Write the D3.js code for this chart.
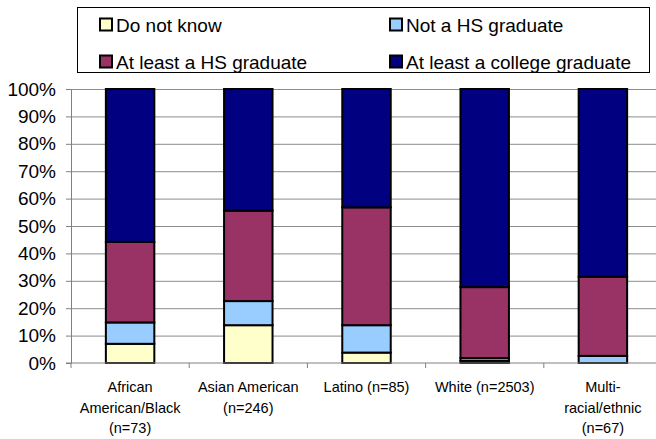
<!DOCTYPE html>
<html>
<head>
<meta charset="utf-8">
<script src="https://cdn.jsdelivr.net/npm/d3@7"></script>
<style>
    body { margin: 0; background: #fff; }
    svg { display: block; font-family: "Liberation Sans", Arial, sans-serif; }
    .y-axis .domain, .x-line { stroke: #808080; }
    .y-axis .tick line { stroke: #808080; }
    .grid line { stroke: #8c8c8c; }
    .grid .domain { display: none; }
</style>
</head>
<body>
<svg class="chart" width="656" height="439"></svg>
<script>
// categories (label lines split by \n)
const categories = [
    "African\nAmerican/Black\n(n=73)",
    "Asian American\n(n=246)",
    "Latino (n=85)",
    "White (n=2503)",
    "Multi-\nracial/ethnic\n(n=67)"
];
const seriesNames = ["Do not know", "Not a HS graduate", "At least a HS graduate", "At least a college graduate"];
const doNotKnow   = [7.0, 13.8, 3.8, 0.8, 0.0];
const notHsGrad   = [7.8, 8.8, 10.0, 1.0, 2.6];
const hsGrad      = [29.4, 33.0, 43.0, 25.9, 28.9];
const collegeGrad = [55.8, 44.4, 43.2, 72.3, 68.5];
const yTicks = [0, 10, 20, 30, 40, 50, 60, 70, 80, 90, 100];

const colors = ['#ffffcc', '#99ccff', '#993366', '#000080'];

function render()
{
    const plot = { left: 71, right: 662, top: 89, bottom: 363 };
    const svg = d3.select('.chart');

    const rows = categories.map((c, i) => ({
        cat: c,
        s0: doNotKnow[i],
        s1: notHsGrad[i],
        s2: hsGrad[i],
        s3: collegeGrad[i]
    }));
    const stack = d3.stack().keys(['s0', 's1', 's2', 's3'])(rows);

    const xScale = d3.scaleBand()
        .domain(categories)
        .range([plot.left, plot.right])
        .paddingInner(0.59)
        .paddingOuter(0.295);

    const yScale = d3.scaleLinear()
        .domain([0, 100])
        .range([plot.bottom, plot.top]);

    // gridlines
    svg.append('g')
        .attr('class', 'grid')
        .attr('transform', `translate(${plot.left}, 0)`)
        .call(d3.axisLeft(yScale)
            .tickValues(yTicks.slice(1))
            .tickSize(-(plot.right - plot.left))
            .tickFormat(''));

    // bars
    svg.append('g').selectAll('g')
        .data(stack)
        .enter()
        .append('g')
        .attr('fill', (d, i) => colors[i])
        .selectAll('rect')
        .data(d => d)
        .enter()
        .append('rect')
        .attr('x', d => xScale(d.data.cat))
        .attr('y', d => yScale(d[1]))
        .attr('width', xScale.bandwidth())
        .attr('height', d => yScale(d[0]) - yScale(d[1]))
        .attr('stroke', '#000')
        .attr('stroke-width', 2);

    // y axis
    svg.append('g')
        .attr('class', 'y-axis')
        .attr('transform', `translate(${plot.left}, 0)`)
        .call(d3.axisLeft(yScale)
            .tickValues(yTicks)
            .tickSize(5)
            .tickSizeOuter(0)
            .tickPadding(10)
            .tickFormat(d => d + '%'))
        .selectAll('text')
        .attr('font-size', 19)
        .attr('fill', '#000')
        .attr('font-family', '"Liberation Sans", Arial, sans-serif');

    // x axis line + category separators
    svg.append('line')
        .attr('class', 'x-line')
        .attr('x1', plot.left - 5)
        .attr('x2', plot.right)
        .attr('y1', plot.bottom)
        .attr('y2', plot.bottom);

    const step = xScale.step();
    svg.append('g').selectAll('line')
        .data(d3.range(categories.length + 1))
        .enter()
        .append('line')
        .attr('x1', i => plot.left + i * step)
        .attr('x2', i => plot.left + i * step)
        .attr('y1', plot.bottom)
        .attr('y2', plot.bottom + 5)
        .attr('stroke', '#808080');

    // category labels
    const labels = svg.append('g').selectAll('text')
        .data(categories)
        .enter()
        .append('text')
        .attr('text-anchor', 'middle')
        .attr('font-size', 14.5)
        .attr('fill', '#000');
    labels.each(function(d) {
        const cx = xScale(d) + xScale.bandwidth() / 2;
        d.split('\n').forEach((line, k) => {
            d3.select(this).append('tspan')
                .attr('x', cx)
                .attr('y', 392 + k * 20.5)
                .text(line);
        });
    });

    // legend
    const legend = svg.append('g');
    legend.append('rect')
        .attr('x', 77.5)
        .attr('y', 7.5)
        .attr('width', 572)
        .attr('height', 65)
        .attr('fill', '#fff')
        .attr('stroke', '#000');

    const legendPos = [[100, 25], [390, 25], [100, 62], [390, 62]];
    seriesNames.forEach((name, i) => {
        const [lx, ly] = legendPos[i];
        legend.append('rect')
            .attr('x', lx)
            .attr('y', ly - 6.5)
            .attr('width', 12)
            .attr('height', 12)
            .attr('fill', colors[i])
            .attr('stroke', '#000')
            .attr('stroke-width', 2);
        legend.append('text')
            .attr('x', lx + 16)
            .attr('y', ly + 7)
            .attr('font-size', 19)
            .text(name);
    });
}

render();
</script>
</body>
</html>
